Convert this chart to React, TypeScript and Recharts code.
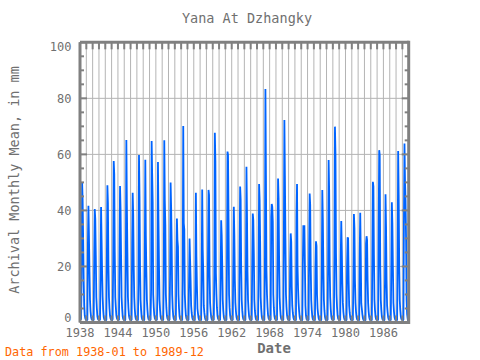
import { LineChart, Line, XAxis, YAxis, CartesianGrid } from "recharts";

// Monthly mean runoff, mm (Jan..Dec per row)
const flows1938to1949 = [
  2, 1.5, 1, 15, 50, 44, 30, 15, 6, 2.5, 1.5, 1, // 1938
  1, 0.8, 1, 28, 41.7, 31, 18, 8, 4, 2, 1.2, 1, // 1939
  0.9, 0.7, 1, 24, 40.5, 37, 24, 9, 5, 2.2, 1.3, 1, // 1940
  1, 0.8, 1.1, 17.5, 41.2, 29.4, 17.5, 9, 4.5, 2, 1.2, 0.9, // 1941
  0.8, 0.7, 1, 23, 49, 42.7, 20, 9, 5, 2.4, 1.4, 1, // 1942
  1, 0.8, 1.2, 22, 57.6, 53, 25, 9, 5.5, 2.5, 1.5, 1.1, // 1943
  1, 0.8, 1, 24, 48.7, 40.7, 24, 9, 5, 2.3, 1.3, 1, // 1944
  0.9, 0.7, 1, 20, 65.1, 41.7, 25, 9, 5, 2.4, 1.4, 1, // 1945
  1, 0.8, 1.1, 28.5, 46.3, 38.7, 20, 9, 4.8, 2.2, 1.3, 1, // 1946
  0.9, 0.7, 1, 14, 59.8, 44.9, 20, 8, 4.5, 2, 1.2, 0.9, // 1947
  0.8, 0.7, 1, 23, 58.1, 31, 18, 8, 4.6, 2.1, 1.2, 1, // 1948
  0.9, 0.8, 1.1, 12, 64.8, 53, 43, 10, 5.5, 2.6, 1.5, 1.1, // 1949
];

const flows1950s = [
  1, 0.8, 1, 10, 57.3, 36.5, 20, 8, 4.5, 2.1, 1.3, 1, // 1950
  0.9, 0.8, 1, 15, 65, 43.5, 34.8, 10, 5.2, 2.4, 1.4, 1, // 1951
  1, 0.8, 1.1, 17, 50, 41.3, 28.8, 10, 5, 2.3, 1.3, 1, // 1952
  0.9, 0.7, 1, 22, 37.1, 29.4, 27, 10, 5, 2.2, 1.3, 1, // 1953
  0.9, 0.8, 1, 15, 70.1, 35.4, 33.3, 10, 5.4, 2.5, 1.4, 1, // 1954
  1, 0.8, 1, 15, 30, 22.5, 15, 6, 3.5, 1.8, 1.1, 0.9, // 1955
  0.8, 0.7, 0.9, 13, 46.3, 23.5, 13, 5, 3.2, 1.7, 1, 0.8, // 1956
  0.8, 0.7, 1, 18, 47.5, 26, 18, 6, 3.6, 1.9, 1.1, 0.9, // 1957
  0.9, 0.7, 1, 24.6, 47.3, 45.5, 17, 7, 4, 2, 1.2, 0.9, // 1958
  0.9, 0.8, 1.1, 17.5, 67.7, 57.6, 17.5, 10, 5.2, 2.4, 1.4, 1, // 1959
];

const flows1960s = [
  1, 0.8, 1, 16.3, 36.5, 31.2, 21, 8, 4.2, 2, 1.2, 0.9, // 1960
  0.9, 0.8, 1, 20, 61, 59.8, 37.1, 10, 5.3, 2.5, 1.4, 1, // 1961
  1, 0.8, 1, 21, 41.3, 31.2, 15, 7, 4, 2, 1.2, 0.9, // 1962
  0.9, 0.7, 1, 24, 48.5, 44, 20, 8, 4.4, 2.1, 1.2, 1, // 1963
  0.9, 0.8, 1, 18, 55.6, 39.2, 18, 8, 4.5, 2.2, 1.3, 1, // 1964
  1, 0.8, 1.1, 22.3, 38.9, 36.5, 24.6, 8, 4.3, 2.1, 1.2, 0.9, // 1965
  0.9, 0.7, 1, 15, 49.4, 43.7, 28.8, 9, 4.8, 2.3, 1.3, 1, // 1966
  0.9, 0.8, 1, 18.5, 83.3, 52.6, 18.5, 10, 5.5, 2.6, 1.5, 1.1, // 1967
  1, 0.8, 1.1, 37.7, 42.3, 41.3, 36, 10, 5.2, 2.4, 1.4, 1, // 1968
  0.9, 0.8, 1, 22.6, 51.4, 44.3, 22.6, 9, 4.8, 2.3, 1.3, 1, // 1969
];

const flows1970s = [
  1, 0.8, 1.1, 30, 72.3, 52.3, 30, 10, 5.5, 2.6, 1.5, 1.1, // 1970
  0.9, 0.7, 1, 22.3, 31.8, 28.8, 12.7, 6, 3.5, 1.8, 1.1, 0.9, // 1971
  0.8, 0.7, 1, 37.7, 49.4, 20, 12, 7, 4, 2, 1.2, 0.9, // 1972
  0.9, 0.7, 1, 20, 34.4, 34.4, 34.4, 20, 6, 2.4, 1.3, 1, // 1973
  0.9, 0.8, 1, 27.3, 46, 42, 20, 8, 4.4, 2.1, 1.2, 0.9, // 1974
  0.8, 0.7, 0.9, 19.5, 29, 27.3, 9.8, 5, 3, 1.6, 1, 0.8, // 1975
  0.8, 0.7, 1, 17.5, 47.3, 37.1, 20, 8, 4.3, 2.1, 1.2, 0.9, // 1976
  0.9, 0.8, 1, 21, 58, 47.3, 20, 9, 4.8, 2.3, 1.3, 1, // 1977
  1, 0.8, 1.1, 24.6, 69.9, 60, 24.6, 10, 5.4, 2.5, 1.4, 1, // 1978
  0.9, 0.8, 1, 23.5, 36.2, 25.8, 14, 7, 3.8, 1.9, 1.1, 0.9, // 1979
];

const flows1980s = [
  0.8, 0.7, 1, 20.5, 30.4, 30, 15, 6, 3.5, 1.8, 1.1, 0.9, // 1980
  0.8, 0.7, 1, 15, 38.7, 33.6, 15, 7, 3.8, 1.9, 1.1, 0.9, // 1981
  0.8, 0.7, 1, 24.4, 39.2, 24.6, 6.8, 5, 3, 1.6, 1, 0.8, // 1982
  0.8, 0.7, 0.9, 28.2, 30.8, 29.4, 15, 7, 3.8, 1.9, 1.1, 0.9, // 1983
  0.9, 0.7, 1, 24, 50.2, 48.5, 24, 8, 4.4, 2.1, 1.2, 1, // 1984
  0.9, 0.8, 1.1, 35.1, 61.5, 59.8, 20, 8, 4.6, 2.2, 1.3, 1, // 1985
  0.9, 0.7, 1, 15, 45.8, 34.2, 15, 6, 3.6, 1.8, 1.1, 0.9, // 1986
  0.8, 0.7, 1, 20, 42.9, 35.4, 20, 7, 4, 2, 1.2, 0.9, // 1987
  0.9, 0.7, 1, 22.5, 61.2, 45.5, 20, 8, 4.5, 2.2, 1.3, 1, // 1988
  1, 0.8, 1.1, 38.3, 63.9, 50.8, 43.7, 30, 8, 3, 1.5, 0, // 1989
];

const START_YEAR = 1938;
const xLabelYears = [1938, 1944, 1950, 1956, 1962, 1968, 1974, 1980, 1986];
const yLabelValues = [0, 20, 40, 60, 80, 100];
const yMinorTicks = [0, 5, 10, 15, 20, 25, 30, 35, 40, 45, 50, 55, 60, 65, 70, 75, 80, 85, 90, 95, 100];
const yearTicks = Array.from({ length: 53 }, (_, i) => START_YEAR + i);

const monthly = [...flows1938to1949, ...flows1950s, ...flows1960s, ...flows1970s, ...flows1980s];
const data = monthly.map((v, i) => ({ t: START_YEAR + i / 12, v }));

const FRAME = "#808080";
const TEXT = "#707070";
const FONT = "'DejaVu Sans Mono', monospace";

// plot box edges (from the chart margins below)
const PLOT_LEFT = 80;
const PLOT_RIGHT = 408.7;
const PLOT_TOP = 42.3;
const PLOT_BOTTOM = 322.5;

const BottomTick = ({ x, payload }: any) => (
  <g>
    <line x1={x} x2={x} y1={PLOT_BOTTOM} y2={PLOT_BOTTOM - 7} stroke={FRAME} strokeWidth={2} />
    {xLabelYears.includes(payload.value) && (
      <text x={x} y={PLOT_BOTTOM + 14.5} textAnchor="middle" fill={TEXT} fontSize={12} fontFamily={FONT}>
        {payload.value}
      </text>
    )}
  </g>
);

const TopTick = ({ x }: any) => (
  <line x1={x} x2={x} y1={PLOT_TOP} y2={PLOT_TOP + 7} stroke={FRAME} strokeWidth={2} />
);

// left axis: labels + inward ticks on both the left and right edges
const SideTick = ({ y, payload }: any) => {
  const val = payload.value;
  const major = yLabelValues.includes(val);
  const len = major ? 7 : 4;
  // edge labels are nudged inward like the original
  const dy = val === 100 ? 9 : val === 0 ? -0.8 : 4.3;
  return (
    <g>
      <line x1={PLOT_LEFT} x2={PLOT_LEFT + len} y1={y} y2={y} stroke={FRAME} strokeWidth={2} />
      <line x1={PLOT_RIGHT} x2={PLOT_RIGHT - len} y1={y} y2={y} stroke={FRAME} strokeWidth={2} />
      {major && (
        <text x={PLOT_LEFT - 8.5} y={y + dy} textAnchor="end" fill={TEXT} fontSize={12} fontFamily={FONT}>
          {val}
        </text>
      )}
    </g>
  );
};

const App = () => {
  return (
    <div style={{ position: "absolute", left: 0, top: 0, width: 480, height: 360, background: "#fff" }}>
      <LineChart
        width={480}
        height={360}
        data={data}
        margin={{ top: PLOT_TOP - 1, right: 480 - PLOT_RIGHT, bottom: 7.5, left: 0 }}
      >
        <CartesianGrid
          xAxisId="bottom"
          yAxisId="main"
          horizontalValues={yLabelValues}
          stroke="#b4b4b4"
          strokeWidth={1}
        />
        <XAxis
          xAxisId="bottom"
          dataKey="t"
          type="number"
          domain={[1938, 1990]}
          ticks={yearTicks}
          interval={0}
          height={30}
          tickSize={0}
          tickMargin={0}
          tickLine={false}
          tick={BottomTick}
          axisLine={{ stroke: FRAME, strokeWidth: 3 }}
          allowDataOverflow
        />
        <XAxis
          xAxisId="top"
          orientation="top"
          dataKey="t"
          type="number"
          domain={[1938, 1990]}
          ticks={yearTicks}
          interval={0}
          height={1}
          tickSize={0}
          tickMargin={0}
          tickLine={false}
          tick={TopTick}
          axisLine={{ stroke: FRAME, strokeWidth: 3 }}
        />
        <YAxis
          yAxisId="main"
          domain={[0, 100]}
          ticks={yMinorTicks}
          interval={0}
          width={PLOT_LEFT}
          tickSize={0}
          tickMargin={0}
          tickLine={false}
          tick={SideTick}
          axisLine={{ stroke: FRAME, strokeWidth: 3 }}
        />
        <Line
          xAxisId="bottom"
          yAxisId="main"
          type="linear"
          dataKey="v"
          stroke="#0064ff"
          strokeWidth={1.8}
          dot={false}
          isAnimationActive={false}
        />
      </LineChart>
      <svg
        width={480}
        height={360}
        style={{ position: "absolute", left: 0, top: 0, pointerEvents: "none" }}
      >
        <line x1={PLOT_RIGHT} x2={PLOT_RIGHT} y1={PLOT_TOP - 1.5} y2={PLOT_BOTTOM + 1.5} stroke={FRAME} strokeWidth={3} />
        <text x={247} y={22.5} textAnchor="middle" fill={TEXT} fontSize={13.5} fontFamily={FONT}>
          Yana At Dzhangky
        </text>
        <text
          x={0}
          y={0}
          transform="translate(19,180) rotate(-90)"
          textAnchor="middle"
          fill={TEXT}
          fontSize={13.5}
          fontFamily={FONT}
        >
          Archival Monthly Mean, in mm
        </text>
        <text x={274} y={352.5} textAnchor="middle" fill={TEXT} fontSize={14} fontWeight="bold" fontFamily={FONT}>
          Date
        </text>
        <text x={5} y={356} fill="#ff6600" fontSize={11.8} fontFamily={FONT}>
          Data from 1938-01 to 1989-12
        </text>
      </svg>
    </div>
  );
};

export default App;
